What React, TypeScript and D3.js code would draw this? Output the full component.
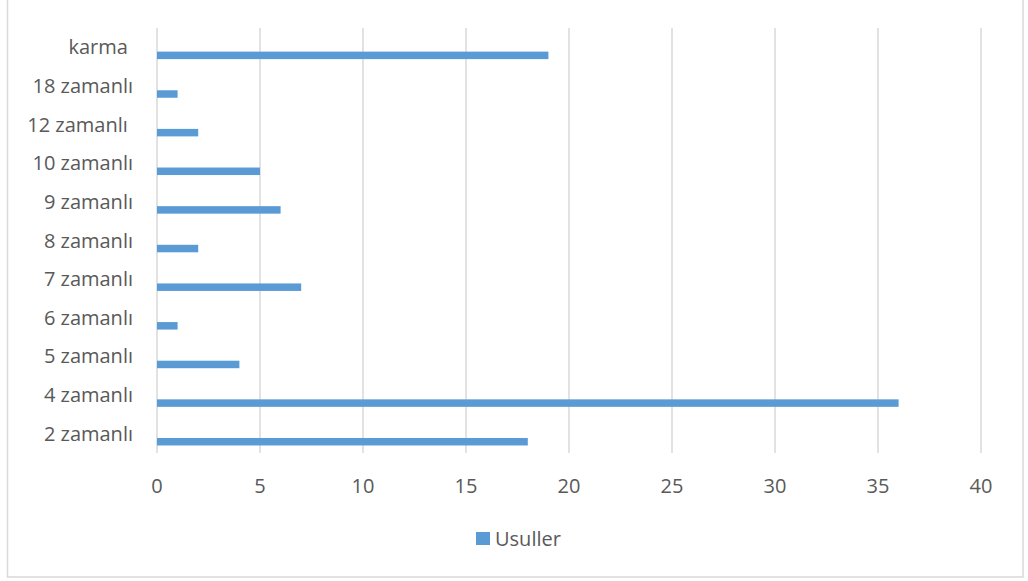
import React from "react";
import * as d3 from "d3";

const categories = ["karma ", "18 zamanlı", "12 zamanlı ", "10 zamanlı", "9 zamanlı", "8 zamanlı", "7 zamanlı", "6 zamanlı", "5 zamanlı", "4 zamanlı", "2 zamanlı"];
const values = [19, 1, 2, 5, 6, 2, 7, 1, 4, 36, 18];
const xTicks = [0, 5, 10, 15, 20, 25, 30, 35, 40];
const seriesName = "Usuller";

const W = 1028;
const H = 581;
const FONT = "'Open Sans', sans-serif";
const TEXT = "#595959";
const BAR = "#5B9BD5";
const GRID = "#D9D9D9";

export default function App() {
  const x = d3.scaleLinear().domain([0, 40]).range([157, 981]);
  const y = d3.scaleBand().domain(categories).range([28, 453]);
  const bw = y.bandwidth();
  return (
    <svg width={W} height={H} style={{ position: "absolute", left: 0, top: 0 }}>
      <rect x={0} y={0} width={W} height={H} fill="#fff" />
      <rect x={7.5} y={-5} width={1015.5} height={582} fill="none" stroke={GRID} strokeWidth={1.5} />
      {xTicks.map((t) => (
        <line key={"g" + t} x1={x(t)} x2={x(t)} y1={28} y2={453} stroke={GRID} strokeWidth={1.5} />
      ))}
      {categories.map((c, i) => (
        <rect
          key={"b" + c}
          x={x(0)}
          y={(y(c) as number) + bw * 0.5 + 4.3}
          width={x(values[i]) - x(0)}
          height={7.5}
          fill={BAR}
        />
      ))}
      {categories.map((c) => (
        <text
          key={"l" + c}
          x={133}
          y={(y(c) as number) + bw / 2 - 0.5}
          textAnchor="end"
          dominantBaseline="central"
          fontFamily={FONT}
          fontSize={20}
          fill={TEXT}
          xmlSpace="preserve"
          style={{ whiteSpace: "pre" }}
        >
          {c}
        </text>
      ))}
      {xTicks.map((t) => (
        <text
          key={"t" + t}
          x={x(t)}
          y={485}
          textAnchor="middle"
          dominantBaseline="central"
          fontFamily={FONT}
          fontSize={20}
          fill={TEXT}
        >
          {t}
        </text>
      ))}
      <rect x={476} y={532} width={14} height={13} fill={BAR} />
      <text x={495} y={538.5} dominantBaseline="central" fontFamily={FONT} fontSize={20} fill={TEXT}>
        {seriesName}
      </text>
    </svg>
  );
}
